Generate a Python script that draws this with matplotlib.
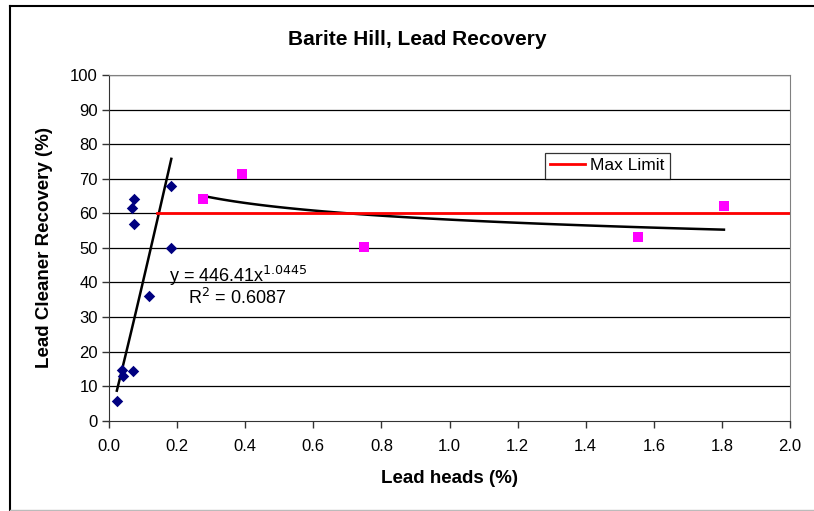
import numpy as np
import matplotlib
matplotlib.use("Agg")
from matplotlib import pyplot as plt
from matplotlib.lines import Line2D

plt.rcParams['font.family'] = ['Liberation Sans', 'DejaVu Sans']

# blue series (low heads)
heads_a = [0.023, 0.037, 0.040, 0.070, 0.117, 0.183, 0.183, 0.073, 0.069, 0.073]
recov_a = [5.8, 14.7, 13.0, 14.4, 36.2, 50.0, 68.0, 64.2, 61.5, 56.9]

# magenta series (high heads)
heads_b = [0.275, 0.39, 0.75, 1.555, 1.806]
recov_b = [64.0, 71.4, 50.3, 53.0, 62.2]

# trend line for blue series, as printed on the chart
coef_a = 446.41
power_a = 1.0445
r2_a = 0.6087

# max limit line
limit_x = [0.14, 2.0]
limit_y = [60, 60]

fig = plt.figure(figsize=(8.14, 5.11), dpi=100)
ax = fig.add_axes([109/814, 1 - 420.7/511, (790 - 109)/814, (420.7 - 75)/511])

# grid
for v in range(10, 101, 10):
    ax.axhline(v, color='black', lw=0.9, zorder=0)

# trend lines
xa = np.linspace(min(heads_a), max(heads_a), 100)
ax.plot(xa, coef_a * xa ** power_a, color='black', lw=1.8, zorder=2)

pb = np.polyfit(np.log(heads_b), np.log(recov_b), 1)
xb = np.linspace(min(heads_b), max(heads_b), 100)
ax.plot(xb, np.exp(pb[1]) * xb ** pb[0], color='black', lw=1.8, zorder=2)

ax.plot(limit_x, limit_y, color='#FF0000', lw=2, zorder=2)

ax.scatter(heads_a, recov_a, marker='D', s=34, color='#000080', zorder=3, linewidths=0)
ax.scatter(heads_b, recov_b, marker='s', s=42, color='#FF00FF', zorder=3, linewidths=0)

ax.set_xlim(0, 2.0)
ax.set_ylim(0, 100)
ax.set_xticks(np.arange(0, 2.01, 0.2))
ax.set_xticklabels([f"{v:.1f}" for v in np.arange(0, 2.01, 0.2)])
ax.set_yticks(range(0, 101, 10))
ax.tick_params(direction='out', length=5, width=1, labelsize=12, color='#333333', pad=3)
ax.tick_params(axis='x', pad=8)

for s in ['top', 'right']:
    ax.spines[s].set_color('#808080')
for s in ['left', 'bottom']:
    ax.spines[s].set_color('#333333')

ax.set_xlabel('Lead heads (%)', fontsize=13.5, fontweight='bold', labelpad=12)
ax.set_ylabel('Lead Cleaner Recovery (%)', fontsize=13.5, fontweight='bold', labelpad=12)
fig.text(417.5/814, 1 - 45/511, 'Barite Hill, Lead Recovery', fontsize=15,
         fontweight='bold', ha='center', va='baseline')

ax.text(0.175, 40.2, r'y = %.2fx$^{%.4f}$' % (coef_a, power_a), fontsize=13,
        va='baseline', ha='left')
ax.text(0.232, 33.8, r'R$^{2}$ = %.4f' % r2_a, fontsize=13, va='baseline', ha='left')

leg = ax.legend([Line2D([0], [0], color='#FF0000', lw=2)], ['Max Limit'],
                loc='upper left', bbox_to_anchor=((545 - 109)/681, (420.7 - 153)/345.7),
                fontsize=12.5, frameon=True, fancybox=False, handlelength=2.0,
                handletextpad=0.3, borderpad=0.3, borderaxespad=0)
leg.get_frame().set_edgecolor('black')
leg.get_frame().set_linewidth(0.9)

# chart area border
fig.add_artist(Line2D([10/814, 10/814], [0, 1 - 6/511], color='black', lw=1.5))
fig.add_artist(Line2D([10/814, 1], [1 - 6/511, 1 - 6/511], color='black', lw=1.5))
fig.add_artist(Line2D([10/814, 1], [1/511, 1/511], color='#BBBBBB', lw=1))

fig.savefig('out.png', dpi=100)
